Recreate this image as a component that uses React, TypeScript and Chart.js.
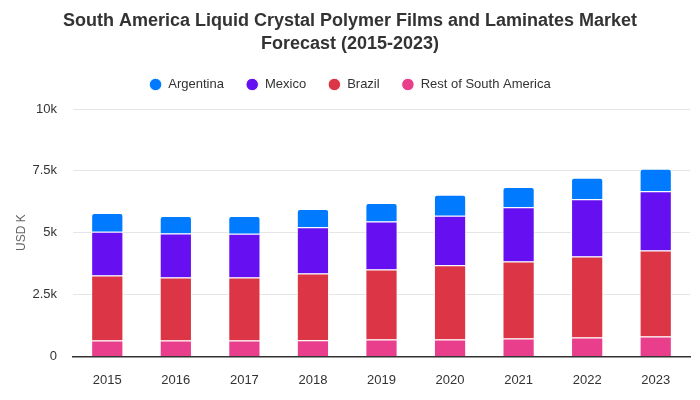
import React, { useEffect, useRef } from "react";
import { Chart, registerables } from "chart.js";

Chart.register(...registerables);

const years = ["2015", "2016", "2017", "2018", "2019", "2020", "2021", "2022", "2023"];
const restOfSouthAmerica = [640, 640, 640, 650, 680, 680, 720, 760, 800];
const brazil = [2630, 2550, 2550, 2700, 2830, 3000, 3120, 3280, 3480];
const mexico = [1770, 1780, 1770, 1870, 1940, 2010, 2190, 2310, 2400];
const argentina = [760, 710, 720, 740, 750, 840, 820, 870, 900];
const yTicks = [0, 2500, 5000, 7500, 10000];
const tickLabels = ["0", "2.5k", "5k", "7.5k", "10k"];

const FONT = "'Liberation Sans', Arial, sans-serif";

const legendMargin = {
  id: "legendMargin",
  afterInit(chart: any) {
    const legend = chart.legend;
    if (!legend) return;
    const fit = legend.fit;
    legend.fit = function () {
      fit.call(this);
      this.height += 8;
    };
  },
};

export default function App() {
  const ref = useRef<HTMLCanvasElement>(null);
  useEffect(() => {
    if (!ref.current) return;
    const common = { borderColor: "#ffffff", borderWidth: 1, barPercentage: 0.47, categoryPercentage: 1 };
    const chart = new Chart(ref.current, {
      type: "bar",
      data: {
        labels: years,
        datasets: [
          { label: "Rest of South America", data: restOfSouthAmerica, backgroundColor: "#e83e8c", ...common },
          { label: "Brazil", data: brazil, backgroundColor: "#dc3545", ...common },
          { label: "Mexico", data: mexico, backgroundColor: "#6610f2", ...common },
          {
            label: "Argentina",
            data: argentina,
            backgroundColor: "#007bff",
            ...common,
            borderRadius: { topLeft: 3, topRight: 3, bottomLeft: 0, bottomRight: 0 },
            borderSkipped: "start",
          },
        ],
      },
      plugins: [legendMargin],
      options: {
        animation: false,
        responsive: true,
        maintainAspectRatio: false,
        layout: { padding: { left: 10, right: 10, top: 6, bottom: 4 } },
        plugins: {
          title: {
            display: true,
            text: ["South America Liquid Crystal Polymer Films and Laminates Market", "Forecast (2015-2023)"],
            font: { family: FONT, size: 18, weight: "bold", lineHeight: 1.25 },
            color: "#333333",
            padding: { top: 4, bottom: 1 },
          },
          legend: {
            reverse: true,
            labels: {
              usePointStyle: true,
              pointStyle: "circle",
              pointStyleWidth: 12.5,
              boxHeight: 8.8,
              padding: 22,
              font: { family: FONT, size: 13 },
              color: "#333333",
            },
          },
          tooltip: { enabled: false },
        },
        scales: {
          x: {
            stacked: true,
            grid: { display: false },
            border: { color: "#333333", width: 1.5 },
            ticks: { font: { family: FONT, size: 13 }, color: "#333333", padding: 8 },
          },
          y: {
            stacked: true,
            min: 0,
            max: 10000,
            afterBuildTicks: (axis: any) => {
              axis.ticks = yTicks.map((v) => ({ value: v }));
            },
            afterFit: (axis: any) => {
              axis.width = 63;
            },
            grid: { color: "#e5e5e5", drawTicks: false },
            border: { display: false },
            ticks: {
              font: { family: FONT, size: 13 },
              color: "#333333",
              padding: 16,
              callback: (v: any) => tickLabels[yTicks.indexOf(Number(v))] ?? "",
            },
            title: {
              display: true,
              text: "USD K",
              color: "#666666",
              font: { family: FONT, size: 12 },
              padding: { top: 4, bottom: 4 },
            },
          },
        },
      },
    });
    return () => chart.destroy();
  }, []);
  return (
    <div style={{ position: "absolute", left: 0, top: 0, width: 700, height: 400, background: "#fff" }}>
      <canvas ref={ref} />
    </div>
  );
}
